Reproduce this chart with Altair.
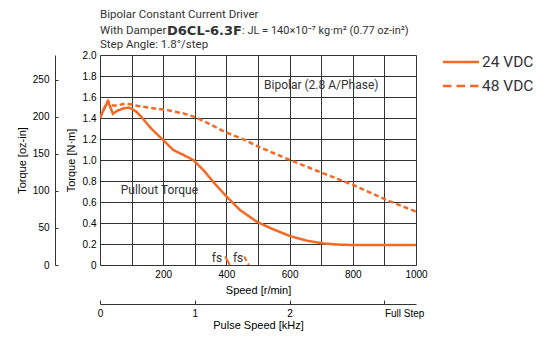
import altair as alt
import pandas as pd

FONT = "Roboto"
ORANGE = "#f26a24"
TEXT = "#333333"
BG = "#fde9dc"
GRID = "#333333"

# --- data ---
speed_24 = [0, 10, 25, 33, 41, 55, 73, 89, 99, 115, 131, 162, 179, 200, 232, 264, 295, 327, 358,
            401, 443, 496, 548, 601, 654, 707, 750, 801, 900, 1000]
torque_24 = [1.40, 1.47, 1.56, 1.50, 1.44, 1.47, 1.49, 1.50, 1.49, 1.46, 1.41, 1.30, 1.25, 1.19,
             1.095, 1.048, 1.0, 0.905, 0.793, 0.65, 0.524, 0.412, 0.34, 0.276, 0.232, 0.205,
             0.195, 0.19, 0.19, 0.19]
speed_48 = [0, 10, 25, 40, 55, 78, 95, 120, 173, 211, 264, 306, 338, 401, 454, 506, 601, 707, 801,
            907, 1000]
torque_48 = [1.40, 1.47, 1.56, 1.52, 1.52, 1.535, 1.53, 1.515, 1.49, 1.476, 1.444, 1.403, 1.355,
             1.26, 1.197, 1.121, 1.0, 0.873, 0.762, 0.619, 0.508]
fs24_speed = [396, 411]
fs24_torque = [0.08, 0.0]
fs48_speed = [456, 471]
fs48_torque = [0.08, 0.0]

series_names = ["24 VDC", "48 VDC"]

note_text = ["Bipolar (2.8 A/Phase)", "Pullout Torque", "fs", "fs"]
note_speed = [700, 188, 370, 437]
note_torque = [1.71, 0.714, 0.067, 0.067]

oz_ticks = [0, 50, 100, 150, 200, 250]
nm_ticks = [0, 0.2, 0.4, 0.6, 0.8, 1.0, 1.2, 1.4, 1.6, 1.8, 2.0]
speed_ticks = list(range(0, 1001, 100))
khz_ticks = [0, 1, 2, 3]
NM_TO_OZIN = 141.612

main = pd.DataFrame({"speed": speed_24 + speed_48,
                     "torque": torque_24 + torque_48,
                     "series": [series_names[0]] * len(speed_24) + [series_names[1]] * len(speed_48)})
fs = pd.DataFrame({"speed": fs24_speed + fs48_speed,
                   "torque": fs24_torque + fs48_torque,
                   "series": [series_names[0]] * 2 + [series_names[1]] * 2})
notes = pd.DataFrame({"text": note_text, "speed": note_speed, "torque": note_torque})

xs = alt.Scale(domain=[0, 1000], nice=False, zero=False)
ys = alt.Scale(domain=[0, 2.0], nice=False, zero=False)
dash_scale = alt.Scale(domain=series_names, range=[[1, 0], [5, 3]])

x_axis = alt.Axis(values=speed_ticks, tickCount=len(speed_ticks), grid=True, gridColor=GRID,
                  gridWidth=1, gridOpacity=1,
                  ticks=False, domain=False, labelFlush=False, labelPadding=4, format="d",
                  labelOverlap=False,
                  labelExpr="datum.value % 200 == 0 && datum.value > 0 ? datum.label : ''",
                  title="Speed [r/min]", titlePadding=5, titleFontWeight="normal")
y_axis = alt.Axis(values=nm_ticks, tickCount=len(nm_ticks), grid=True, gridColor=GRID,
                  gridWidth=1, gridOpacity=1,
                  ticks=False, domain=False, labelPadding=4, labelOverlap=False,
                  labelExpr="datum.value == 0 ? '0' : format(datum.value, '.1f')",
                  title="Torque [N·m]", titlePadding=6, titleFontWeight="normal")

lines = alt.Chart(main).mark_line(color=ORANGE, strokeWidth=2.5, clip=True).encode(
    x=alt.X("speed:Q", scale=xs, axis=x_axis),
    y=alt.Y("torque:Q", scale=ys, axis=y_axis),
    strokeDash=alt.StrokeDash("series:N", scale=dash_scale, legend=None),
)

fs_lines = alt.Chart(fs).mark_line(color=ORANGE, strokeWidth=2, clip=True).encode(
    x=alt.X("speed:Q", scale=xs),
    y=alt.Y("torque:Q", scale=ys),
    strokeDash=alt.StrokeDash("series:N", scale=dash_scale, legend=None),
    detail="series:N",
)

note_marks = alt.Chart(notes).mark_text(font=FONT, fontSize=12, color=TEXT, baseline="middle").encode(
    x=alt.X("speed:Q", scale=xs),
    y=alt.Y("torque:Q", scale=ys),
    text="text:N",
)

one = pd.DataFrame({"a": [0]})


def label(txt, x, y, size=11.5, weight="normal", font=FONT):
    return alt.Chart(one).mark_text(font=font, fontSize=size, fontWeight=weight, color=TEXT,
                                    align="left", baseline="middle").encode(
        x=alt.value(x), y=alt.value(y), text=alt.value(txt))


titles = [
    label("Bipolar Constant Current Driver", 0, -40),
    label("With Damper", 0, -24.5),
    label("D6CL-6.3F", 67, -24.5, size=13, weight="bold", font="DejaVu Sans"),
    label(": JL = 140×10⁻⁷ kg·m² (0.77 oz-in²)", 142, -24.5, size=11),
    label("Step Angle: 1.8°/step", 0, -10),
]

# legend (line samples + labels) to the right of the plot
legend_dash = [[1, 0], [8.5, 5]]
legend_y = [7, 31]
legend_parts = []
for name, dash, ly in zip(series_names, legend_dash, legend_y):
    legend_parts.append(
        alt.Chart(one).mark_rule(color=ORANGE, strokeWidth=2.5, strokeDash=dash).encode(
            x=alt.value(343), x2=alt.value(379), y=alt.value(ly)))
    legend_parts.append(label(name, 382, ly, size=15.5))

inner = alt.layer(lines, fs_lines, note_marks, *titles, *legend_parts)

oz_layer = alt.Chart(main).transform_calculate(oz=f"datum.torque * {NM_TO_OZIN}").mark_point(opacity=0).encode(
    x=alt.X("speed:Q", scale=xs, axis=None),
    y=alt.Y("oz:Q", scale=alt.Scale(domain=[0, 2.0 * NM_TO_OZIN], nice=False, zero=False),
            axis=alt.Axis(orient="left", offset=45, values=oz_ticks, tickCount=len(oz_ticks),
                          grid=False, tickSize={"expr": "-3"}, labelPadding=9, domainColor=GRID,
                          tickColor=GRID, labelOverlap=False,
                          title="Torque [oz-in]", titlePadding=5, titleFontWeight="normal")),
)

khz_layer = alt.Chart(main).transform_calculate(khz="datum.speed / 300").mark_point(opacity=0).encode(
    x=alt.X("khz:Q", scale=alt.Scale(domain=[0, 1000 / 300], nice=False, zero=False),
            axis=alt.Axis(orient="bottom", offset=39, values=khz_ticks, tickCount=len(khz_ticks),
                          grid=False, tickSize={"expr": "-4"}, labelPadding=8, labelFlush=False,
                          labelOverlap=False,
                          labelExpr="datum.value == 3 ? 'Full Step' : datum.label",
                          labelAlign={"condition": {"test": "datum.value == 3", "value": "left"},
                                      "value": "center"},
                          domainColor=GRID, tickColor=GRID,
                          title="Pulse Speed [kHz]", titlePadding=1, titleFontWeight="normal")),
    y=alt.Y("torque:Q", scale=ys, axis=None),
)

chart = alt.layer(inner, oz_layer, khz_layer).resolve_scale(
    x="independent", y="independent"
).properties(
    width=316, height=210,
    autosize=alt.AutoSizeParams(type="none"),
    padding={"left": 92, "top": 47, "right": 117, "bottom": 67},
).configure_view(
    fill=BG, stroke="#555555", strokeWidth=1
).configure_axis(
    labelFont=FONT, titleFont=FONT, labelColor=TEXT, titleColor=TEXT,
    labelFontSize=12, titleFontSize=12, titleFontWeight="normal"
).configure(background="white")

chart.save("out.html", embed_options={"renderer": "svg", "actions": False})
